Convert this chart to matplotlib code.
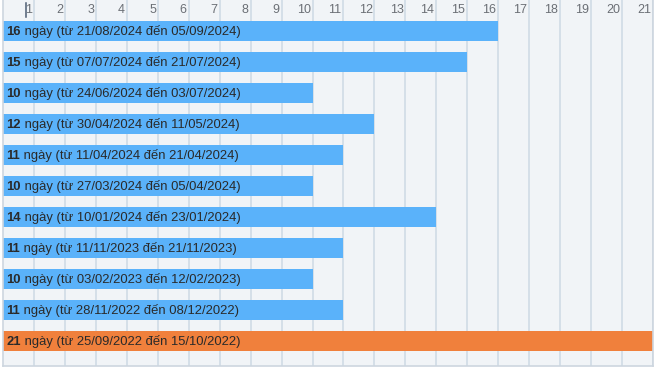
import matplotlib
matplotlib.use("Agg")
import matplotlib.pyplot as plt

plt.rcParams['font.family'] = ['Liberation Sans', 'DejaVu Sans']

days = [16, 15, 10, 12, 11, 10, 14, 11, 10, 11, 21]
start_dates = ["21/08/2024", "07/07/2024", "24/06/2024", "30/04/2024", "11/04/2024",
               "27/03/2024", "10/01/2024", "11/11/2023", "03/02/2023", "28/11/2022",
               "25/09/2022"]
end_dates = ["05/09/2024", "21/07/2024", "03/07/2024", "11/05/2024", "21/04/2024",
             "05/04/2024", "23/01/2024", "21/11/2023", "12/02/2023", "08/12/2022",
             "15/10/2022"]
tick_days = list(range(1, 22))

BG = '#f1f4f7'
GRID = '#d3dde7'
BLUE = '#5ab2fa'
ORANGE = '#f0803c'

fig = plt.figure(figsize=(6.54, 3.69), dpi=100)
ax = fig.add_axes([3 / 654, 3 / 369, 650 / 654, 366 / 369])
ax.set_facecolor(BG)
fig.patch.set_facecolor('white')

longest = max(days)
colors = [ORANGE if d == longest else BLUE for d in days]
rows = list(range(len(days)))
ax.barh(rows, days, height=0.645, color=colors, zorder=2)

ax.set_xlim(0, 21)
ax.set_ylim(10.8, -1.0)

for d in tick_days:
    ax.axvline(d, color=GRID, lw=1.3, zorder=1)
    ax.text(d - 0.06, -0.68, str(d), ha='right', va='center', fontsize=9, color='#6b6f75')

# small marker next to the first tick
ax.plot([0.75, 0.75], [-0.9, -0.45], color='#4d5d72', lw=1.1, zorder=3)

for i, (d, s, e) in enumerate(zip(days, start_dates, end_dates)):
    t = ax.text(0.1, i + 0.02, str(d), ha='left', va='center', fontsize=9.4, fontweight='bold',
                color='#2a2a2a', zorder=4)
    ax.annotate(f" ngày (từ {s} đến {e})", xy=(1, 0), xycoords=t, ha='left', va='bottom',
                fontsize=9.4, color='#2a2a2a', zorder=4)

ax.set_xticks([])
ax.set_yticks([])
ax.spines['top'].set_visible(False)
for side in ['left', 'right', 'bottom']:
    ax.spines[side].set_color('#cdd6df')
    ax.spines[side].set_linewidth(1.2)

fig.savefig("out.png", dpi=100)
